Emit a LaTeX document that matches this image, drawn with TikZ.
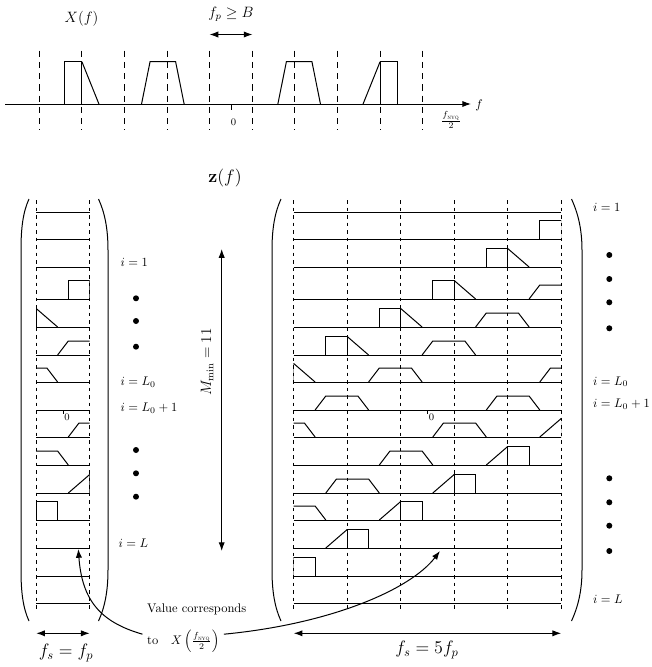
\documentclass[tikz,border=0pt]{standalone}
\usepackage{amsmath,amssymb}
\usepackage{tikz}
\usetikzlibrary{arrows.meta,positioning,calc}

% one copy of the spectrum: #1 centre, #2 box height, #3 trapezoid height
\newcommand{\spectrum}[3]{%
  \draw (#1-3.9,0) rectangle (#1-3.5,#2);
  \draw (#1-3.5,#2) -- (#1-3.1,0);
  \draw (#1-2.1,0) -- (#1-1.9,#3) -- (#1-1.3,#3) -- (#1-1.1,0);
  \draw (#1+1.1,0) -- (#1+1.3,#3) -- (#1+1.9,#3) -- (#1+2.1,0);
  \draw (#1+3.1,0) -- (#1+3.5,#2);
  \draw (#1+3.5,0) rectangle (#1+3.9,#2);
}

\begin{document}
\begin{tikzpicture}[x=0.8pt, y=-0.8pt, >={Latex[length=7pt,width=5pt]}, thick,
  band/.style={dashed},
  topband/.style={dash pattern=on 5pt off 4pt},
  dotmark/.style={fill=black}]
\useasboundingbox (0,0) rectangle (652,667);

% spectrum X(f)
\node (Xf) at (81.5,19) {\large $X(f)$};
\node (fpB) at (231,14) {\large $f_p \geq B$};
\coordinate (fpL) at (209.5,34.5);
\coordinate (fpR) at (252.5,34.5);
\draw[<->] (fpL) -- (fpR);

\coordinate (f0) at (5,104);
\coordinate (f1) at (471,104);
\draw[->] (f0) -- (f1);
\node (faxis) at (479,105) {$f$};
\draw (231,104) -- (231,109.5);
\node[font=\footnotesize] (zeroT) at (233.5,122) {0};
\node (nyqT) at (451,120) {$\frac{f_{\text{\textsc{nyq}}}}{2}$};

\begin{scope}[shift={(231,104)}, x=34.08pt]
  \foreach \k in {-5,...,4}
    \draw[topband] (\k+0.5,-53.3) -- (\k+0.5,26);
  \spectrum{0}{-42.3}{-42.3}
\end{scope}

% z(f)
\node (zf) at (225,178) {\Large $\mathbf{z}(f)$};

\draw[band] (36.2,200) -- (36.2,611);
\draw[band] (89.7,200) -- (89.7,611);
\foreach \k in {0,...,5}
  \draw[band] (293.7+53.5*\k,200) -- (293.7+53.5*\k,611);

\foreach \yb [count=\row from 0] in {212,239,267,299,327,355,382,410,437,465,493,520,548,576,603} {
  \draw (36.2,\yb) -- (89.7,\yb);
  \draw (293.7,\yb) -- (561.2,\yb);
  \begin{scope}
    \clip (36.2,\yb+2) rectangle (89.7,\yb-25);
    \begin{scope}[shift={(36.2,\yb)}, x=42.8pt]
      \spectrum{7.5-\row}{-18.5}{-14}
    \end{scope}
  \end{scope}
  \begin{scope}
    \clip (293.7,\yb+2) rectangle (561.2,\yb-25);
    \begin{scope}[shift={(293.7,\yb)}, x=42.8pt]
      \spectrum{9.5-\row}{-18.5}{-14}
    \end{scope}
  \end{scope}
}

\draw (63,410) -- (63,413.5);
\node[font=\footnotesize] (zeroL) at (67,417) {0};
\draw (427.5,410) -- (427.5,413.5);
\node[font=\footnotesize] (zeroR) at (431.5,417) {0};

% brackets
\draw (29,199) .. controls (23,212) and (21,228) .. (21,250) -- (21,570)
  .. controls (21,592) and (23,608) .. (29,621);
\draw (98.5,199) .. controls (104.5,212) and (108,228) .. (108,250) -- (108,570)
  .. controls (108,592) and (104.5,608) .. (98.5,621);
\draw (281,199) .. controls (275,212) and (272,228) .. (272,250) -- (272,570)
  .. controls (272,592) and (275,608) .. (281,621);
\draw (571.5,199) .. controls (577.5,212) and (582,228) .. (582,250) -- (582,570)
  .. controls (582,592) and (577.5,608) .. (571.5,621);

% row labels
\node[anchor=west] (iOneL) at (116,262.3) {$i=1$};
\node[anchor=west] (iLzL) at (116,382.3) {$i=L_0$};
\node[anchor=west] (iLzpL) at (116,408) {$i=L_0+1$};
\node[anchor=west] (iLL) at (114,543.3) {$i=L$};
\foreach \yd in {298.3,321,346.7,450,473.3,496.7}
  \fill[dotmark] (136,\yd) circle[radius=2.4pt];

\node[anchor=west] (iOneR) at (588.5,207.3) {$i=1$};
\node[anchor=west] (iLzR) at (588.5,381.7) {$i=L_0$};
\node[anchor=west] (iLzpR) at (588.5,404) {$i=L_0+1$};
\node[anchor=west] (iLR) at (588.5,599) {$i=L$};
\foreach \yd in {255,279,302.3,328.3,478.3,502.3,525.7,551}
  \fill[dotmark] (609.3,\yd) circle[radius=2.4pt];

% M_min
\coordinate (Mtop) at (221.7,249);
\coordinate (Mbot) at (221.7,551);
\draw[<->] (Mtop) -- (Mbot);
\node[rotate=90] (Mlab) at (207,362) {\large $M_{\min}=11$};

% widths
\coordinate (wL0) at (36.2,633.3);
\coordinate (wL1) at (89.7,633.3);
\draw[<->] (wL0) -- (wL1);
\node (fsL) at (66,653) {\Large $f_s = f_p$};
\coordinate (wR0) at (293.7,633.3);
\coordinate (wR1) at (561.2,633.3);
\draw[<->] (wR0) -- (wR1);
\node (fsR) at (427,650) {\Large $f_s = 5f_p$};

% note
\node[anchor=west] (val) at (142.5,609) {Value corresponds};
\node[anchor=west] (toX) at (142.5,641.7) {to\quad $X\left(\frac{f_{\text{\textsc{nyq}}}}{2}\right)$};
\coordinate (tgtL) at (78.3,549);
\coordinate (tgtR) at (440,551);
\draw[->] ([yshift=6pt]toX.west) .. controls (100,622) and (82,600) .. (tgtL);
\draw[->] ([yshift=6pt]toX.east) .. controls (330,624) and (410,590) .. (tgtR);
\end{tikzpicture}
\end{document}
